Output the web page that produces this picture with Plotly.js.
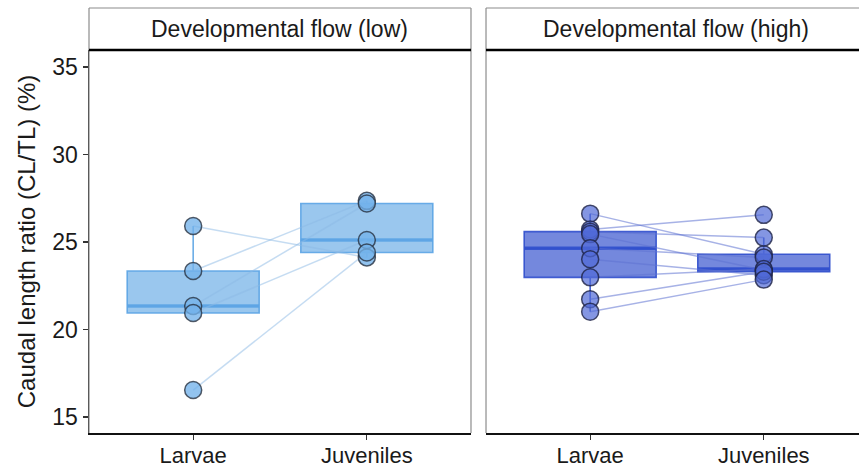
<!DOCTYPE html>
<html>
<head>
<meta charset="utf-8">
<script src="https://cdn.plot.ly/plotly-3.0.1.min.js"></script>
<style>
html,body{margin:0;padding:0;overflow:hidden;background:#fff;}
#chart{width:859px;height:468px;}
</style>
</head>
<body>
<div id="chart"></div>
<script>
// ---- data ----
const stages = ['Larvae', 'Juveniles'];
const panelTitles = ['Developmental flow (low)', 'Developmental flow (high)'];
const yTicks = [15, 20, 25, 30, 35];

// low flow: paired individuals (larva value -> juvenile value)
const lowLarvae    = [25.91, 23.34, 21.34, 20.94, 16.54];
const lowJuveniles = [24.12, 27.35, 27.20, 25.11, 24.40];

// high flow
const highLarvae    = [26.62, 25.72, 25.59, 25.45, 24.64, 24.01, 22.98, 21.73, 21.02];
const highJuveniles = [24.30, 26.55, 25.25, 23.40, 24.12, 23.10, 23.45, 23.30, 22.85];

// ---- styles ----
const BOXW = 0.76;
const styles = [
  {fill: 'rgba(92,164,228,0.62)', line: 'rgba(92,164,228,0.9)', pt: 'rgba(115,178,235,0.78)', link: 'rgba(140,185,230,0.5)', ptLine: 'rgba(40,50,65,0.8)'},
  {fill: 'rgba(50,80,205,0.68)', line: 'rgba(50,80,205,0.92)', pt: 'rgba(80,105,215,0.7)', link: 'rgba(95,115,210,0.55)', ptLine: 'rgba(30,35,70,0.8)'}
];

function median(a){
  const s = a.slice().sort((p,q)=>p-q); const n = s.length;
  return n % 2 ? s[(n-1)/2] : (s[n/2-1] + s[n/2]) / 2;
}

const traces = [];
const groups = [[lowLarvae, lowJuveniles], [highLarvae, highJuveniles]];
groups.forEach((g, p) => {
  const xa = p === 0 ? 'x' : 'x2';
  const ya = p === 0 ? 'y' : 'y2';
  const st = styles[p];
  const bx = [], by = [];
  g.forEach((vals, i) => vals.forEach(v => { bx.push(i); by.push(v); }));
  traces.push({
    type: 'box', x: bx, y: by, xaxis: xa, yaxis: ya,
    width: BOXW, quartilemethod: 'inclusive', boxpoints: 'outliers',
    marker: {opacity: 0, size: 1},
    fillcolor: st.fill, line: {color: st.line, width: 1.6},
    whiskerwidth: 0, hoverinfo: 'skip', showlegend: false
  });
  g.forEach((vals, i) => {
    const m = median(vals);
    traces.push({
      type: 'scatter', mode: 'lines', xaxis: xa, yaxis: ya,
      x: [i - BOXW/2, i + BOXW/2], y: [m, m],
      line: {color: st.line, width: 3.5}, hoverinfo: 'skip', showlegend: false
    });
  });
  const lx = [], ly = [];
  g[0].forEach((v, k) => { lx.push(0, 1, null); ly.push(v, g[1][k], null); });
  traces.push({
    type: 'scatter', mode: 'lines', x: lx, y: ly, xaxis: xa, yaxis: ya,
    line: {color: st.link, width: 1.5}, hoverinfo: 'skip', showlegend: false
  });
  traces.push({
    type: 'scatter', mode: 'markers', x: bx, y: by, xaxis: xa, yaxis: ya,
    marker: {size: 17, color: st.pt, line: {color: st.ptLine, width: 1.5}},
    hoverinfo: 'y', showlegend: false
  });
});

const FONT = 'Liberation Sans, Arial, sans-serif';
const xBase = {
  tickvals: [0, 1], ticktext: stages,
  showline: true, linecolor: '#111', linewidth: 1.5, mirror: false,
  ticks: 'outside', ticklen: 5, tickwidth: 1.2, tickcolor: '#333',
  showgrid: false, zeroline: false, fixedrange: true,
  ticklabelstandoff: -3,
  tickfont: {family: FONT, size: 22, color: '#1a1a1a'}
};
const yRange = [14.086, 35.97];
const GRAY = '#8c8c8c';

const shapes = [], annotations = [];
['x', 'x2'].forEach((xa, p) => {
  const ya = p === 0 ? 'y' : 'y2';
  const xr = xa + ' domain', yr = ya + ' domain';
  const sides = p === 0 ? [[0,0,0,1.1097],[1,0,1,1.1097],[0,1.1097,1,1.1097]]
                        : [[0,0,0,1.1097],[0,1.1097,1,1.1097]];
  sides.forEach(s => shapes.push({type: 'line', xref: xr, yref: yr, x0: s[0], y0: s[1], x1: s[2], y1: s[3],
    line: {color: GRAY, width: 1.2}}));
  shapes.push({type: 'line', xref: xr, yref: yr, x0: 0, x1: 1, y0: 1, y1: 1,
    line: {color: '#000', width: 2.4}});
  annotations.push({xref: xr, yref: yr, x: p === 0 ? 0.5 : 0.5102, y: 1.056, text: panelTitles[p],
    showarrow: false, xanchor: 'center', yanchor: 'middle',
    font: {family: FONT, size: 23, color: '#1a1a1a'}});
});

const layout = {
  width: 859, height: 468,
  margin: {l: 89, r: 0, t: 50, b: 35},
  paper_bgcolor: '#fff', plot_bgcolor: '#fff',
  showlegend: false,
  xaxis: Object.assign({}, xBase, {domain: [0, 0.4961], anchor: 'y', range: [-0.6, 1.6]}),
  xaxis2: Object.assign({}, xBase, {domain: [0.5156, 1], anchor: 'y2', range: [-0.6, 1.5486]}),
  yaxis: {
    range: yRange, tickvals: yTicks, anchor: 'x',
    showline: true, linecolor: '#111', linewidth: 1.5,
    ticks: 'outside', ticklen: 5, tickwidth: 1.2, tickcolor: '#333',
    showgrid: false, zeroline: false, fixedrange: true,
    tickfont: {family: FONT, size: 23, color: '#1a1a1a'},
    title: {text: 'Caudal length ratio (CL/TL) (%)', font: {family: FONT, size: 24, color: '#1a1a1a'}, standoff: 10}
  },
  yaxis2: {
    range: yRange, anchor: 'x2', showticklabels: false, ticks: '',
    showline: false, showgrid: false, zeroline: false, fixedrange: true
  },
  shapes: shapes, annotations: annotations
};

Plotly.newPlot('chart', traces, layout, {displayModeBar: false, staticPlot: true});
</script>
</body>
</html>
